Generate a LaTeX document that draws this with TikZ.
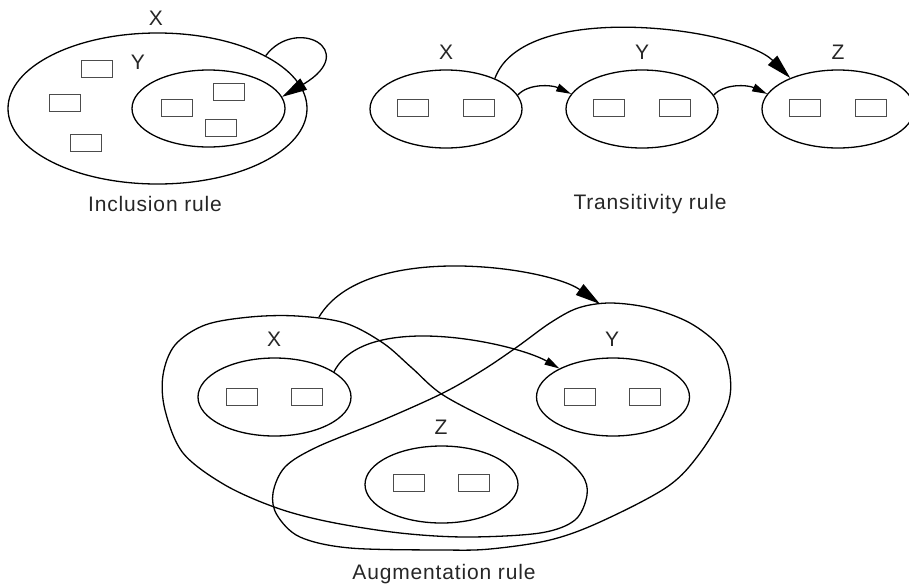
\documentclass[tikz,border=0pt]{standalone}
\usepackage{fontspec}
\setmainfont{Liberation Sans}[LetterSpace=4]
\usepackage{tikz}
\usetikzlibrary{shapes.geometric, arrows.meta}

\begin{document}
\begin{tikzpicture}[x=1pt,y=-1pt]
	\tikzstyle{setshape}=[ellipse,draw=black,line width=1.3pt,inner sep=0pt,minimum width=152pt,minimum height=78pt]
	\tikzstyle{elem}=[rectangle,draw=black!70,line width=1.5pt,minimum width=31pt,minimum height=17pt,inner sep=0pt]
	\tikzstyle{lbl}=[text=black!85,inner sep=0pt,font=\fontsize{21}{25}\selectfont]
	\tikzstyle{blob}=[line width=1.3pt]
	\tikzstyle{bighead}=[line width=1.3pt,-{Triangle[length=25pt,width=13pt]}]
	\tikzstyle{smallhead}=[line width=1.3pt,-{Triangle[length=15pt,width=8pt]}]
	\useasboundingbox (0,0) rectangle (909,587);

	% inclusion rule
	\node[setshape,minimum width=299pt,minimum height=151pt](incX) at (157.5,108.5) {};
	\node[setshape,minimum width=153pt,minimum height=77pt](incY) at (208.5,108.5) {};
	\node[lbl](incXname) at (156,18) {X};
	\node[lbl](incYname) at (138,62) {Y};
	\node[elem](ie1) at (97,69) {};
	\node[elem](ie2) at (65,103) {};
	\node[elem](ie3) at (86,143) {};
	\node[elem](ie4) at (177,108) {};
	\node[elem](ie5) at (229,92) {};
	\node[elem](ie6) at (221,128) {};
	\draw[bighead] (incX.26) .. controls +(30,-40) and +(79,-47) .. (incY.9);
	\node[lbl](inclusion) at (155,204) {Inclusion rule};

	% transitivity rule
	\node[setshape](trX) at (446,109) {};
	\node[setshape](trY) at (642,109) {};
	\node[setshape](trZ) at (838,109) {};
	\node[lbl](trXname) at (446,52) {X};
	\node[lbl](trYname) at (642,52) {Y};
	\node[lbl](trZname) at (838,52) {Z};
	\node[elem](te1) at (413,108) {};
	\node[elem](te2) at (479,108) {};
	\node[elem](te3) at (609,108) {};
	\node[elem](te4) at (675,108) {};
	\node[elem](te5) at (805,108) {};
	\node[elem](te6) at (871,108) {};
	\draw[smallhead] (trX.11) .. controls +(11,-12) and +(-19,-9) .. (trY.168);
	\draw[smallhead] (trY.11) .. controls +(11,-12) and +(-19,-9) .. (trZ.168);
	\draw[bighead] (trX.32) .. controls +(29,-80) and +(-50,-50) .. (trZ.147);
	\node[lbl](transitivity) at (650,204) {Transitivity rule};

	% augmentation rule
	\draw[blob] plot[smooth cycle,tension=0.55] coordinates {
		(297,316) (345,323) (383,343) (412,368) (443,395) (500,425) (557,453)
		(582,475) (587,495) (575,520) (540,533) (467,537) (400,533) (330,522)
		(277,508) (225,485) (183,453) (165,410) (163,375) (175,345) (205,325) (250,317)};
	\draw[blob] plot[smooth cycle,tension=0.55] coordinates {
		(610,303) (650,308) (690,323) (720,347) (730,375) (727,407) (700,453)
		(667,487) (600,522) (550,540) (490,549) (443,550) (350,548) (300,537)
		(277,515) (273,493) (285,467) (317,447) (383,420) (443,393) (483,370)
		(517,347) (550,323) (578,308)};
	\coordinate (auXtop) at (319,317);
	\coordinate (auYtop) at (600,304);
	\node[setshape,minimum width=153pt](auX) at (274.5,397) {};
	\node[setshape,minimum width=153pt](auY) at (613,397) {};
	\node[setshape,minimum width=153pt,minimum height=77pt](auZ) at (441.5,484.5) {};
	\node[lbl](auXname) at (274,339) {X};
	\node[lbl](auYname) at (612,339) {Y};
	\node[lbl](auZname) at (441,427) {Z};
	\node[elem](ae1) at (242,397) {};
	\node[elem](ae2) at (307,397) {};
	\node[elem](ae3) at (580,397) {};
	\node[elem](ae4) at (645,397) {};
	\node[elem](ae5) at (409,483) {};
	\node[elem](ae6) at (474,483) {};
	\draw[smallhead] (auX.23) .. controls +(32,-62) and +(-43,-25) .. (auY.152);
	\draw[bighead] (auXtop) .. controls +(46,-77) and +(-52,-37) .. (auYtop);
	\node[lbl](augmentation) at (444,574) {Augmentation rule};
\end{tikzpicture}
\end{document}
